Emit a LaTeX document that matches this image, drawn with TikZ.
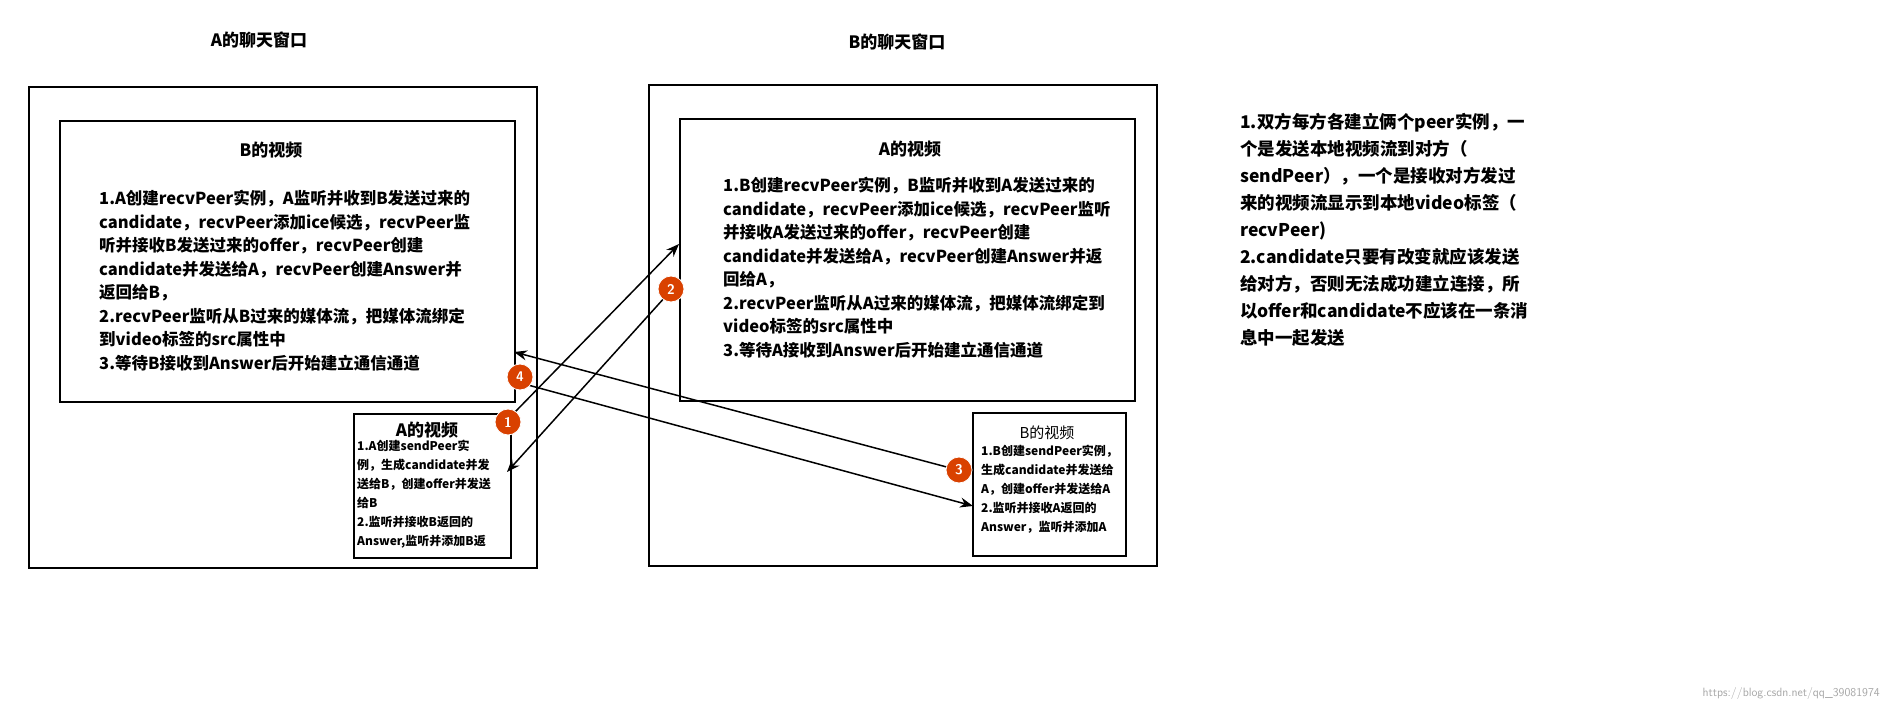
\documentclass[tikz,border=0pt]{standalone}
\usepackage{fontspec}
\usetikzlibrary{arrows.meta}
\newfontfamily\cjk{Noto Sans CJK SC}
\newcommand\cjkb{\cjk\bfseries}
\begin{document}
\begin{tikzpicture}[x=1pt,y=-1pt,
  box/.style={draw,line width=1.6pt},
  title/.style={font=\cjkb\fontsize{17}{20}\selectfont},
  big/.style={font=\cjkb\fontsize{16.5}{23.5}\selectfont,align=left,anchor=north west,inner sep=0},
  small/.style={font=\cjkb\fontsize{12}{19}\selectfont,align=left,anchor=north west,inner sep=0},
  num/.style={circle,fill=orange!60!red!85!black,draw=white,line width=0.8pt,text=white,font=\sffamily\bfseries\fontsize{14}{14}\selectfont,minimum size=26pt,inner sep=0},
  arr/.style={line width=1.5pt,-{Stealth[length=13pt,width=10pt]}}]
\useasboundingbox (0,0) rectangle (1887,712);
% A window
\node[title] (tA) at (259,40) {A的聊天窗口};
\draw[box] (29,87) rectangle (537,568);
\node[box,minimum width=455pt,minimum height=281pt,anchor=north west] (Bv) at (59,120) {};
\node[title] at (271,150) {B的视频};
\node[big] (tBv) at (99,190) {1.A创建recvPeer实例，A监听并收到B发送过来的\\candidate，recvPeer添加ice候选，recvPeer监\\听并接收B发送过来的offer，recvPeer创建\\candidate并发送给A，recvPeer创建Answer并\\返回给B，\\2.recvPeer监听从B过来的媒体流，把媒体流绑定\\到video标签的src属性中\\3.等待B接收到Answer后开始建立通信通道};
\node[box,minimum width=157pt,minimum height=144pt,anchor=north west] (As) at (353,413) {};
\node[title] at (427,430) {A的视频};
\node[small] at (357,440) {1.A创建sendPeer实\\例，生成candidate并发\\送给B，创建offer并发送\\给B\\2.监听并接收B返回的\\Answer,监听并添加B返};
% B window
\node[title] (tB) at (897,42) {B的聊天窗口};
\draw[box] (649,85) rectangle (1157,566);
\node[box,minimum width=455pt,minimum height=282pt,anchor=north west] (Av) at (679,118) {};
\node[title] at (910,149) {A的视频};
\node[big] at (723,177) {1.B创建recvPeer实例，B监听并收到A发送过来的\\candidate，recvPeer添加ice候选，recvPeer监听\\并接收A发送过来的offer，recvPeer创建\\candidate并发送给A，recvPeer创建Answer并返\\回给A，\\2.recvPeer监听从A过来的媒体流，把媒体流绑定到\\video标签的src属性中\\3.等待A接收到Answer后开始建立通信通道};
\node[box,minimum width=153pt,minimum height=143pt,anchor=north west] (Bs) at (972,412) {};
\node[font=\cjk\fontsize{15}{18}\selectfont] at (1047,433) {B的视频};
\node[small] at (981,445) {1.B创建sendPeer实例，\\生成candidate并发送给\\A，创建offer并发送给A\\2.监听并接收A返回的\\Answer，监听并添加A};
% right text
\node[font=\cjkb\fontsize{17.5}{27}\selectfont,align=left,anchor=north west,inner sep=0] (note) at (1240,113) {1.双方每方各建立俩个peer实例，一\\个是发送本地视频流到对方（\\sendPeer），一个是接收对方发过\\来的视频流显示到本地video标签（\\recvPeer)\\2.candidate只要有改变就应该发送\\给对方，否则无法成功建立连接，所\\以offer和candidate不应该在一条消\\息中一起发送};
\node[font=\sffamily\fontsize{12}{12}\selectfont,text=gray!70,anchor=south east,inner sep=0] (wm) at (1880,700) {https://blog.csdn.net/qq\_39081974};
% arrows
\coordinate (s1) at (515,412);
\coordinate (e1) at (679,244);
\coordinate (s2) at (666,296);
\coordinate (e2) at (507,472);
\coordinate (s4) at (958,470);
\coordinate (e4) at (514,352);
\coordinate (s3) at (528,385);
\coordinate (e3) at (973,506);
\draw[arr] (s1) -- (e1);
\draw[arr] (s2) -- (e2);
\draw[arr] (s4) -- (e4);
\draw[arr] (s3) -- (e3);
\node[num] (n1) at (508,422) {1};
\node[num] (n2) at (671,289) {2};
\node[num] (n3) at (959,470) {3};
\node[num] (n4) at (520,377) {4};
\end{tikzpicture}
\end{document}
